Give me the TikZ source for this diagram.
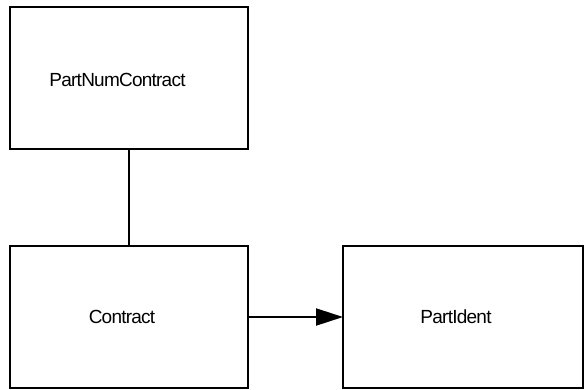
\documentclass[tikz,border=0pt]{standalone}
\usepackage{fontspec}
\setmainfont{Liberation Sans}[LetterSpace=-4]
\usetikzlibrary{arrows.meta}
\begin{document}
\begin{tikzpicture}[x=1pt,y=-1pt,
  box/.style={draw=black,line width=2pt,fill=none,inner sep=0pt,outer sep=0pt},
  lbl/.style={inner sep=0pt,anchor=base,font=\fontsize{19}{22}\selectfont}]
\useasboundingbox (0,0) rectangle (584,389);
\node[box,minimum width=238pt,minimum height=142pt] (pnc) at (129,78) {};
\node[box,minimum width=238pt,minimum height=142pt] (con) at (129,317) {};
\node[box,minimum width=240pt,minimum height=142pt] (pid) at (463,317) {};
\node[lbl] (tpnc) at (117.5,86.5) {PartNumContract};
\node[lbl] (tcon) at (122,323.5) {Contract};
\node[lbl] (tpid) at (456,323.5) {PartIdent};
\draw[line width=2pt] (pnc.south) -- (con.north);
\draw[line width=2pt,-{Triangle[length=27pt,width=17pt]}] (con.east) -- (pid.west);
\end{tikzpicture}
\end{document}
